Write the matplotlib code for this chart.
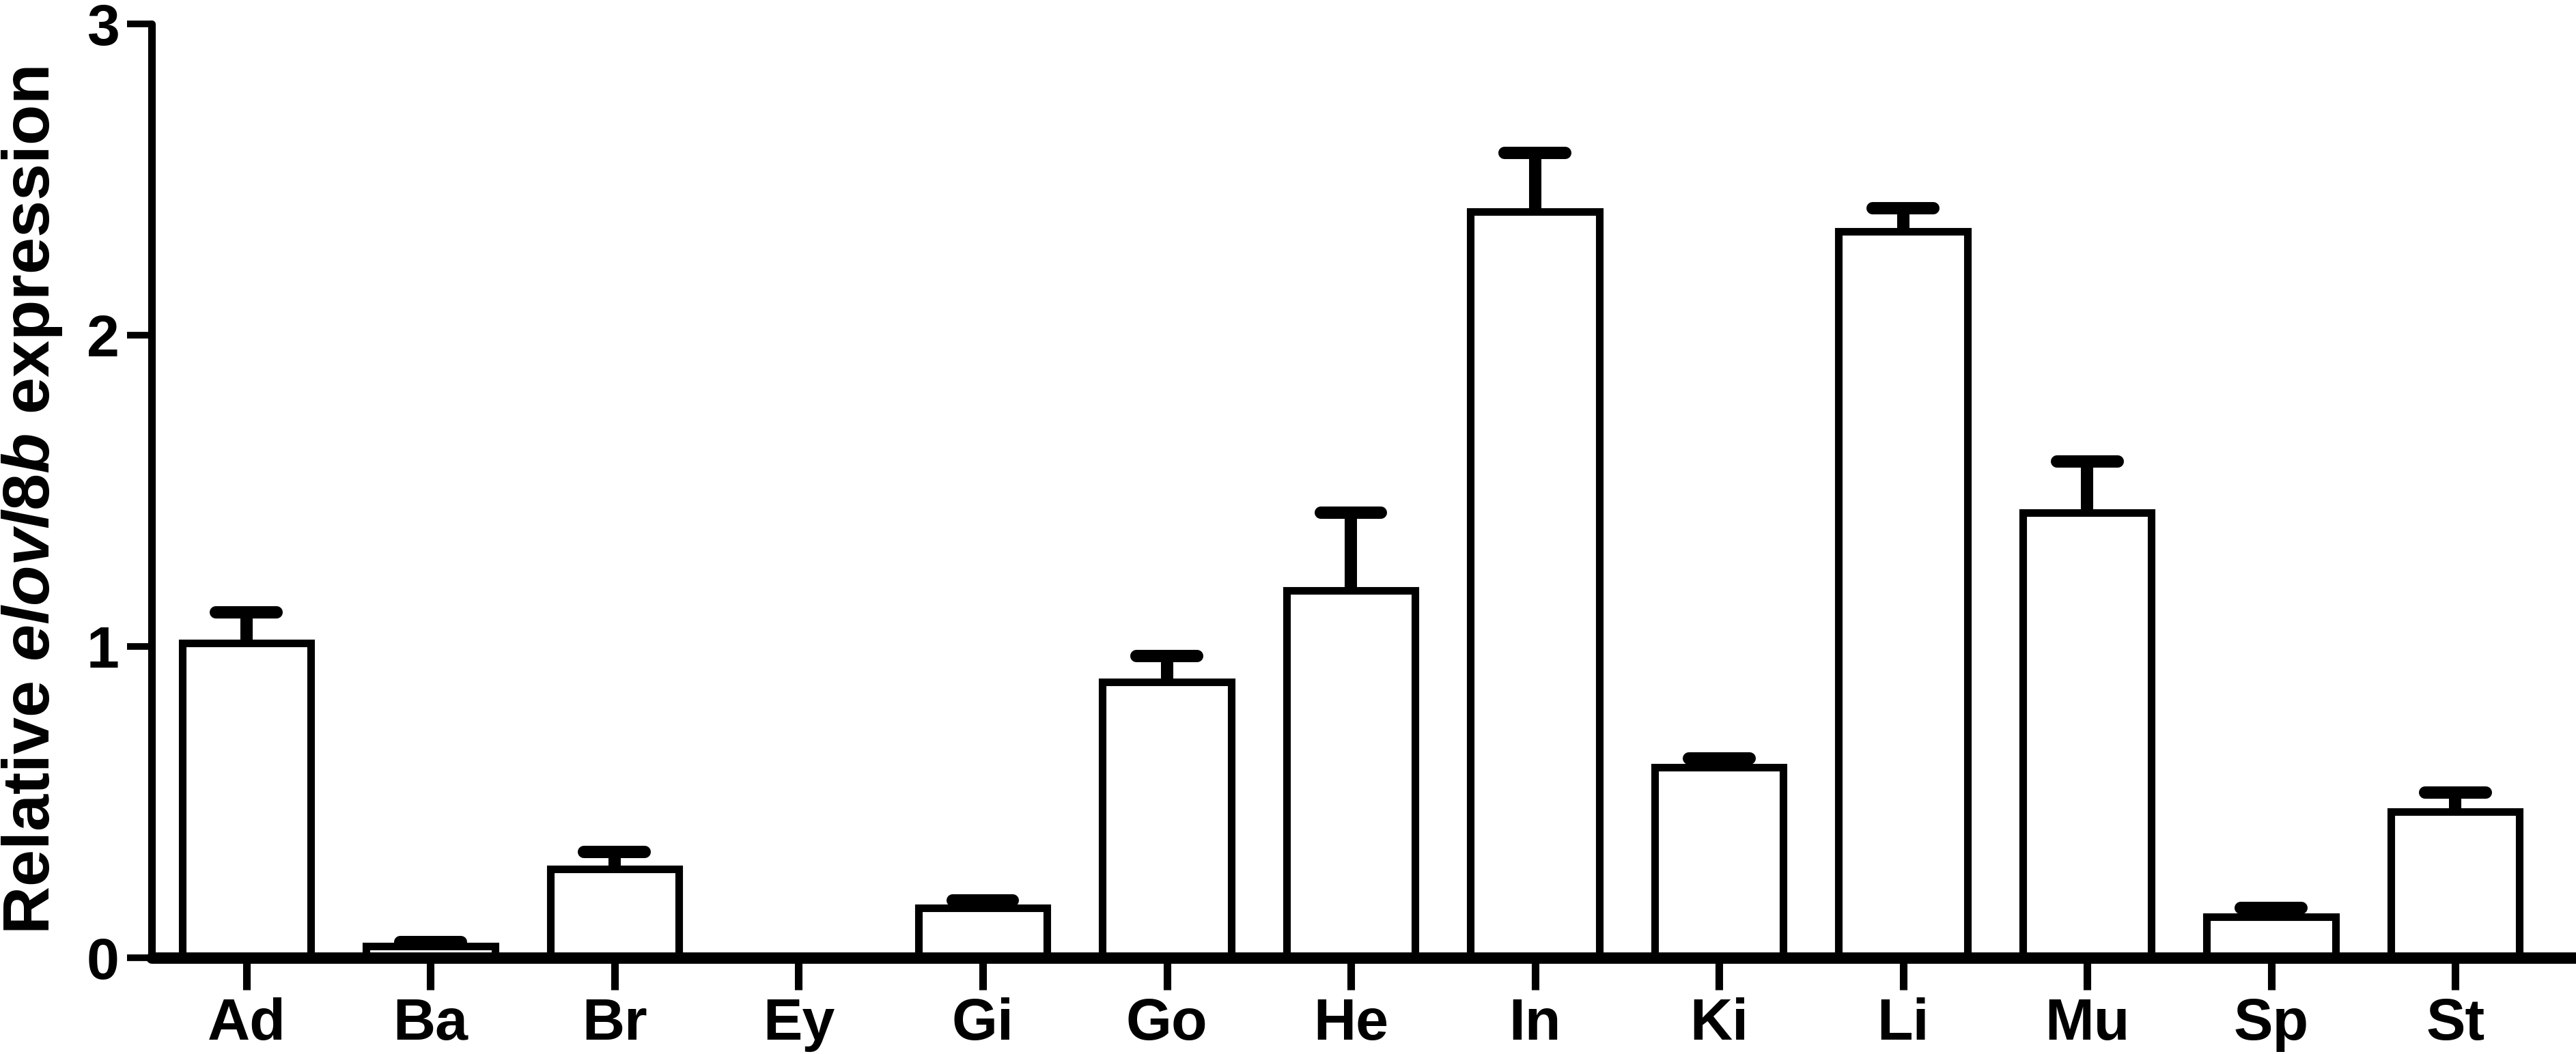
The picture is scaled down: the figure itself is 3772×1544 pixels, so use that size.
import numpy as np
import matplotlib
matplotlib.use('Agg')
import matplotlib.pyplot as plt

# relative expression per tissue (mean, upper SEM)
tissues = ['Ad', 'Ba', 'Br', 'Ey', 'Gi', 'Go', 'He', 'In', 'Ki', 'Li', 'Mu', 'Sp', 'St']
means = [1.01, 0.037, 0.285, 0.0, 0.16, 0.887, 1.18, 2.396, 0.613, 2.334, 1.43, 0.132, 0.47]
errs = [0.10, 0.013, 0.055, 0.0, 0.025, 0.083, 0.25, 0.19, 0.027, 0.075, 0.165, 0.028, 0.06]
yticks = [0, 1, 2, 3]

plt.rcParams['font.family'] = 'Liberation Sans'
plt.rcParams['font.weight'] = 'bold'
plt.rcParams['mathtext.fontset'] = 'custom'
plt.rcParams['mathtext.rm'] = 'Liberation Sans:bold'
plt.rcParams['mathtext.it'] = 'Liberation Sans:bold:italic'

fig = plt.figure(figsize=(37.73, 15.44), dpi=100)
ax = fig.add_axes([0.0588, 0.0913, 0.9412, 0.886])

x = np.arange(len(tissues))
width = 0.7
cap_half = 0.165
ax.bar(x, means, width=width, color='white', edgecolor='black', linewidth=8, zorder=2)

m = np.array(means)
e = np.array(errs)
has_err = e > 0
ax.errorbar(x[has_err], m[has_err], yerr=[np.zeros(has_err.sum()), e[has_err]],
            fmt='none', ecolor='black', elinewidth=13, capsize=0, zorder=3)
# rounded caps, like the original
ax.hlines(m[has_err] + e[has_err], x[has_err] - cap_half, x[has_err] + cap_half,
          colors='black', linewidth=13, capstyle='round', zorder=3)

ax.set_xlim(-0.516, 12.66)
ax.set_ylim(0, 3)
ax.set_yticks(yticks)
ax.set_xticks(x)
ax.set_xticklabels(tissues)

for s in ['top', 'right']:
    ax.spines[s].set_visible(False)
ax.spines['left'].set_linewidth(8)
ax.spines['bottom'].set_linewidth(12)
ax.spines['left'].set_capstyle('round')
ax.spines['bottom'].set_capstyle('round')

ax.tick_params(axis='x', length=34, width=8, pad=8, labelsize=62)
ax.tick_params(axis='y', length=26, width=7, pad=8, labelsize=62)

ax.set_ylabel(r'Relative $\mathit{elovl8b}$ expression', fontsize=70, fontweight='bold')
ax.yaxis.set_label_coords(-0.036, 0.49)

fig.savefig('out.png', dpi=100)
